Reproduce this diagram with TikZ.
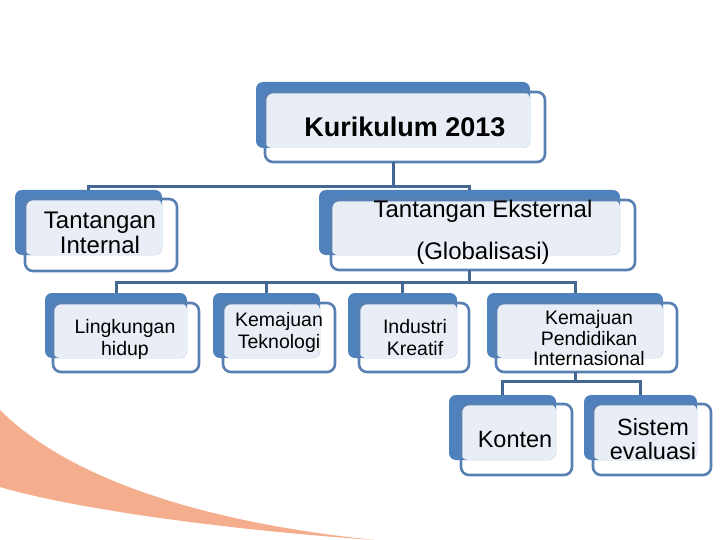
\documentclass[tikz,border=0pt]{standalone}
\usepackage{fontspec}
\setmainfont{Liberation Sans}
\definecolor{backblue}{RGB}{79,129,189}
\definecolor{edgeblue}{RGB}{88,128,178}
\definecolor{connblue}{RGB}{68,104,146}
\definecolor{lightfill}{RGB}{233,238,246}
\definecolor{swoosh}{RGB}{244,174,142}
\newcommand{\tribox}[9]{%
  \node[backbox, minimum width={#4-#2}, minimum height={#5-#3}] (#1B) at ({(#2+#4)/2},{(#3+#5)/2}) {};
  \fill[lightfill, rounded corners=7pt] (#6,#7) rectangle (#4,#5);
  \node[frontbox, minimum width={#8-#6}, minimum height={#9-#7}] (#1) at ({(#6+#8)/2},{(#7+#9)/2}) {};
}
\begin{document}
\begin{tikzpicture}[x=1pt,y=-1pt,
  backbox/.style={draw=none, fill=backblue, rectangle, rounded corners=7pt, inner sep=0pt, outer sep=0pt},
  frontbox/.style={draw=edgeblue, line width=2.6pt, rectangle, rounded corners=8pt, inner sep=0pt, outer sep=0pt},
  conn/.style={draw=connblue, line width=3pt},
  tl/.style={anchor=base, inner sep=0pt, text=black},
  ftop/.style={font=\fontsize{27}{30}\selectfont\bfseries},
  fmid/.style={font=\fontsize{24}{26}\selectfont},
  flow/.style={font=\fontsize{19.5}{22}\selectfont},
  fbot/.style={font=\fontsize{23.5}{26}\selectfont}]
\useasboundingbox (0,0) rectangle (720,540);
\fill[white] (0,0) rectangle (720,540);
% orange swoosh
\fill[swoosh] (0,410) .. controls (60,470) and (180,520) .. (375,540)
  .. controls (200,528) and (60,505) .. (0,487) -- cycle;
% boxes
\tribox{root}{256}{82}{530}{148}{265}{92}{545}{162}
\tribox{int}{15}{190}{162}{255}{25}{199}{177}{271}
\tribox{ext}{319}{190}{620}{255}{331}{200}{635}{270}
\tribox{ling}{45}{293}{187}{358}{53}{303}{199}{372}
\tribox{tek}{213}{293}{320}{358}{223}{303}{335}{372}
\tribox{ind}{348}{293}{457}{358}{359}{303}{469}{372}
\tribox{pend}{487}{293}{663}{358}{496}{303}{677}{372}
\tribox{kont}{449}{395}{556}{460}{461}{404}{572}{475}
\tribox{sis}{584}{395}{697}{460}{593}{404}{711}{475}
% texts
\node[tl, ftop] (rootT) at (405,136.7) {Kurikulum 2013};
\node[tl, fmid] (intT1) at (100,229) {Tantangan};
\node[tl, fmid] (intT2) at (100,254) {Internal};
\node[tl, fmid] (extT1) at (483,218) {Tantangan Eksternal};
\node[tl, fmid] (extT2) at (483,259) {(Globalisasi)};
\node[tl, flow] (lingT1) at (125,333) {Lingkungan};
\node[tl, flow] (lingT2) at (125,355) {hidup};
\node[tl, flow] (tekT1) at (279,326) {Kemajuan};
\node[tl, flow] (tekT2) at (279,348) {Teknologi};
\node[tl, flow] (indT1) at (415,333) {Industri};
\node[tl, flow] (indT2) at (415,355) {Kreatif};
\node[tl, flow] (pendT1) at (589,324) {Kemajuan};
\node[tl, flow] (pendT2) at (589,345) {Pendidikan};
\node[tl, flow] (pendT3) at (589,365) {Internasional};
\node[tl, fbot] (kontT) at (515,447) {Konten};
\node[tl, fbot] (sisT1) at (653,435) {Sistem};
\node[tl, fbot] (sisT2) at (653,459) {evaluasi};
% connectors
\coordinate (bus1) at (0,187);
\coordinate (bus2) at (0,282.5);
\coordinate (bus3) at (0,381.7);
\draw[conn] (rootB.south |- root.south) -- (rootB.south |- bus1);
\draw[conn] (intB.north) |- (extB.north |- bus1) -- (extB.north);
\draw[conn] (extB.south |- ext.south) -- (extB.south |- bus2);
\draw[conn] (lingB.north) |- (pendB.north |- bus2) -- (pendB.north);
\draw[conn] (tekB.north) -- (tekB.north |- bus2);
\draw[conn] (indB.north) -- (indB.north |- bus2);
\draw[conn] (pendB.south |- pend.south) -- (pendB.south |- bus3);
\draw[conn] (kontB.north) |- (sisB.north |- bus3) -- (sisB.north);
\end{tikzpicture}
\end{document}
